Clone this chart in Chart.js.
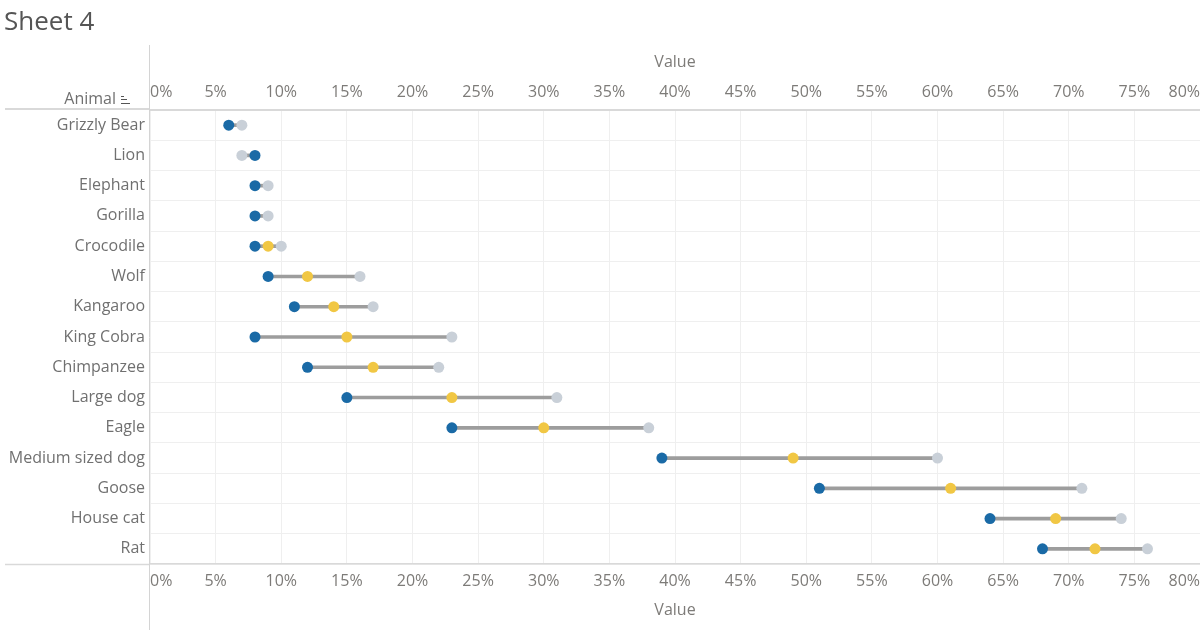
<!DOCTYPE html>
<html>
<head>
<meta charset="utf-8">
<script src="https://cdn.jsdelivr.net/npm/chart.js@4"></script>
<style>
  html, body { margin: 0; padding: 0; background: #fff; }
  body { width: 1200px; height: 630px; position: relative; overflow: hidden; font-family: "Open Sans", sans-serif; }
  #title { position: absolute; left: 4px; top: 2px; font-size: 26px; color: #555; }
  #wrap { position: absolute; left: 0; top: 0; width: 1200px; height: 630px; }
</style>
</head>
<body>
<div id="wrap"><canvas id="c" width="1200" height="630"></canvas></div>
<div id="title">Sheet 4</div>
<script>
const animals = ["Grizzly Bear","Lion","Elephant","Gorilla","Crocodile","Wolf","Kangaroo","King Cobra","Chimpanzee","Large dog","Eagle","Medium sized dog","Goose","House cat","Rat"];
const blueValues   = [0.06,0.08,0.08,0.08,0.08,0.09,0.11,0.08,0.12,0.15,0.23,0.39,0.51,0.64,0.68];
const yellowValues = [null,null,null,null,0.09,0.12,0.14,0.15,0.17,0.23,0.30,0.49,0.61,0.69,0.72];
const grayValues   = [0.07,0.07,0.09,0.09,0.10,0.16,0.17,0.23,0.22,0.31,0.38,0.60,0.71,0.74,0.76];
const xTicks = [0,0.05,0.10,0.15,0.20,0.25,0.30,0.35,0.40,0.45,0.50,0.55,0.60,0.65,0.70,0.75,0.80];
const rowHeader = "Animal";
const axisTitle = "Value";

const FONT = "'Open Sans', sans-serif";
const TICK_COLOR = "#7d7b78";

const pts = (vals) => vals.map((v, i) => v === null ? null : ({x: v, y: animals[i]})).filter(p => p);

const deco = {
  id: 'deco',
  afterDraw(chart) {
    const ctx = chart.ctx;
    const a = chart.chartArea;
    ctx.save();
    ctx.strokeStyle = '#d9d9d9';
    ctx.lineWidth = 2;
    ctx.beginPath();
    ctx.moveTo(5, a.top - 1); ctx.lineTo(a.left, a.top - 1);
    ctx.stroke();
    ctx.lineWidth = 1.5;
    ctx.beginPath();
    ctx.moveTo(5, a.bottom + 0.5); ctx.lineTo(a.left, a.bottom + 0.5);
    ctx.stroke();
    ctx.strokeStyle = '#d4d4d4';
    ctx.lineWidth = 1;
    ctx.beginPath();
    ctx.moveTo(a.left - 0.5, 45); ctx.lineTo(a.left - 0.5, 630);
    ctx.stroke();
    // row header text
    ctx.fillStyle = '#707070';
    ctx.font = "16px " + FONT;
    ctx.textAlign = 'right';
    ctx.textBaseline = 'middle';
    ctx.fillText(rowHeader, 116, 99);
    // sort icon next to header
    ctx.strokeStyle = '#555';
    ctx.lineWidth = 1;
    ctx.beginPath();
    ctx.moveTo(121, 96.5); ctx.lineTo(124, 96.5);
    ctx.moveTo(121, 99.5); ctx.lineTo(127, 99.5);
    ctx.moveTo(121, 103.5); ctx.lineTo(130, 103.5);
    ctx.stroke();
    ctx.restore();
  }
};

const pctTick = (v) => Math.round(v * 100) + '%';
const fitX = (h) => (s) => { s.height = h; s.paddingLeft = 0; s.paddingRight = 0; };

new Chart(document.getElementById('c'), {
  type: 'bar',
  data: {
    labels: animals,
    datasets: [
      {
        type: 'bar',
        label: 'range',
        data: animals.map((a, i) => [blueValues[i], grayValues[i]]),
        backgroundColor: '#9d9d9d',
        barThickness: 3,
        indexAxis: 'y',
        order: 5
      },
      {
        type: 'line', label: 'gray', data: pts(grayValues), showLine: false,
        pointRadius: 5.5, pointBackgroundColor: '#c9d0d8', pointBorderWidth: 0,
        indexAxis: 'y', order: 3, clip: false
      },
      {
        type: 'line', label: 'yellow', data: pts(yellowValues), showLine: false,
        pointRadius: 5.5, pointBackgroundColor: '#f1c744', pointBorderWidth: 0,
        indexAxis: 'y', order: 2, clip: false
      },
      {
        type: 'line', label: 'blue', data: pts(blueValues), showLine: false,
        pointRadius: 5.5, pointBackgroundColor: '#1a6aa6', pointBorderWidth: 0,
        indexAxis: 'y', order: 1, clip: false
      }
    ]
  },
  options: {
    indexAxis: 'y',
    responsive: false,
    animation: false,
    events: [],
    layout: { autoPadding: false, padding: { top: 45, left: 0, right: 0, bottom: 0 } },
    plugins: { legend: { display: false }, tooltip: { enabled: false } },
    scales: {
      y: {
        type: 'category',
        position: 'left',
        offset: true,
        afterFit(s) { s.width = 150; },
        grid: { offset: true, color: '#efefef', drawTicks: false },
        border: { display: false },
        ticks: { color: '#707070', font: { family: FONT, size: 16 }, padding: 5 }
      },
      x: {
        type: 'linear',
        position: 'top',
        min: 0, max: 0.8,
        afterFit: fitX(65),
        afterBuildTicks(s) { s.ticks = xTicks.map(v => ({value: v})); },
        grid: { color: '#efefef', drawTicks: false },
        border: { display: true, color: '#d9d9d9', width: 2 },
        ticks: { callback: pctTick, color: TICK_COLOR, font: { family: FONT, size: 16 }, padding: 8, align: 'inner', maxRotation: 0, autoSkip: false },
        title: { display: true, text: axisTitle, color: TICK_COLOR, font: { family: FONT, size: 16 }, padding: { top: 8, bottom: 8 } }
      },
      x2: {
        type: 'linear',
        position: 'bottom',
        min: 0, max: 0.8,
        afterFit: fitX(66),
        afterBuildTicks(s) { s.ticks = xTicks.map(v => ({value: v})); },
        grid: { display: false, drawTicks: false },
        border: { display: true, color: '#d9d9d9', width: 1.5 },
        ticks: { callback: pctTick, color: TICK_COLOR, font: { family: FONT, size: 16 }, padding: 8, align: 'inner', maxRotation: 0, autoSkip: false },
        title: { display: true, text: axisTitle, color: TICK_COLOR, font: { family: FONT, size: 16 }, padding: { top: 10, bottom: 10 } }
      }
    }
  },
  plugins: [deco]
});
</script>
</body>
</html>
